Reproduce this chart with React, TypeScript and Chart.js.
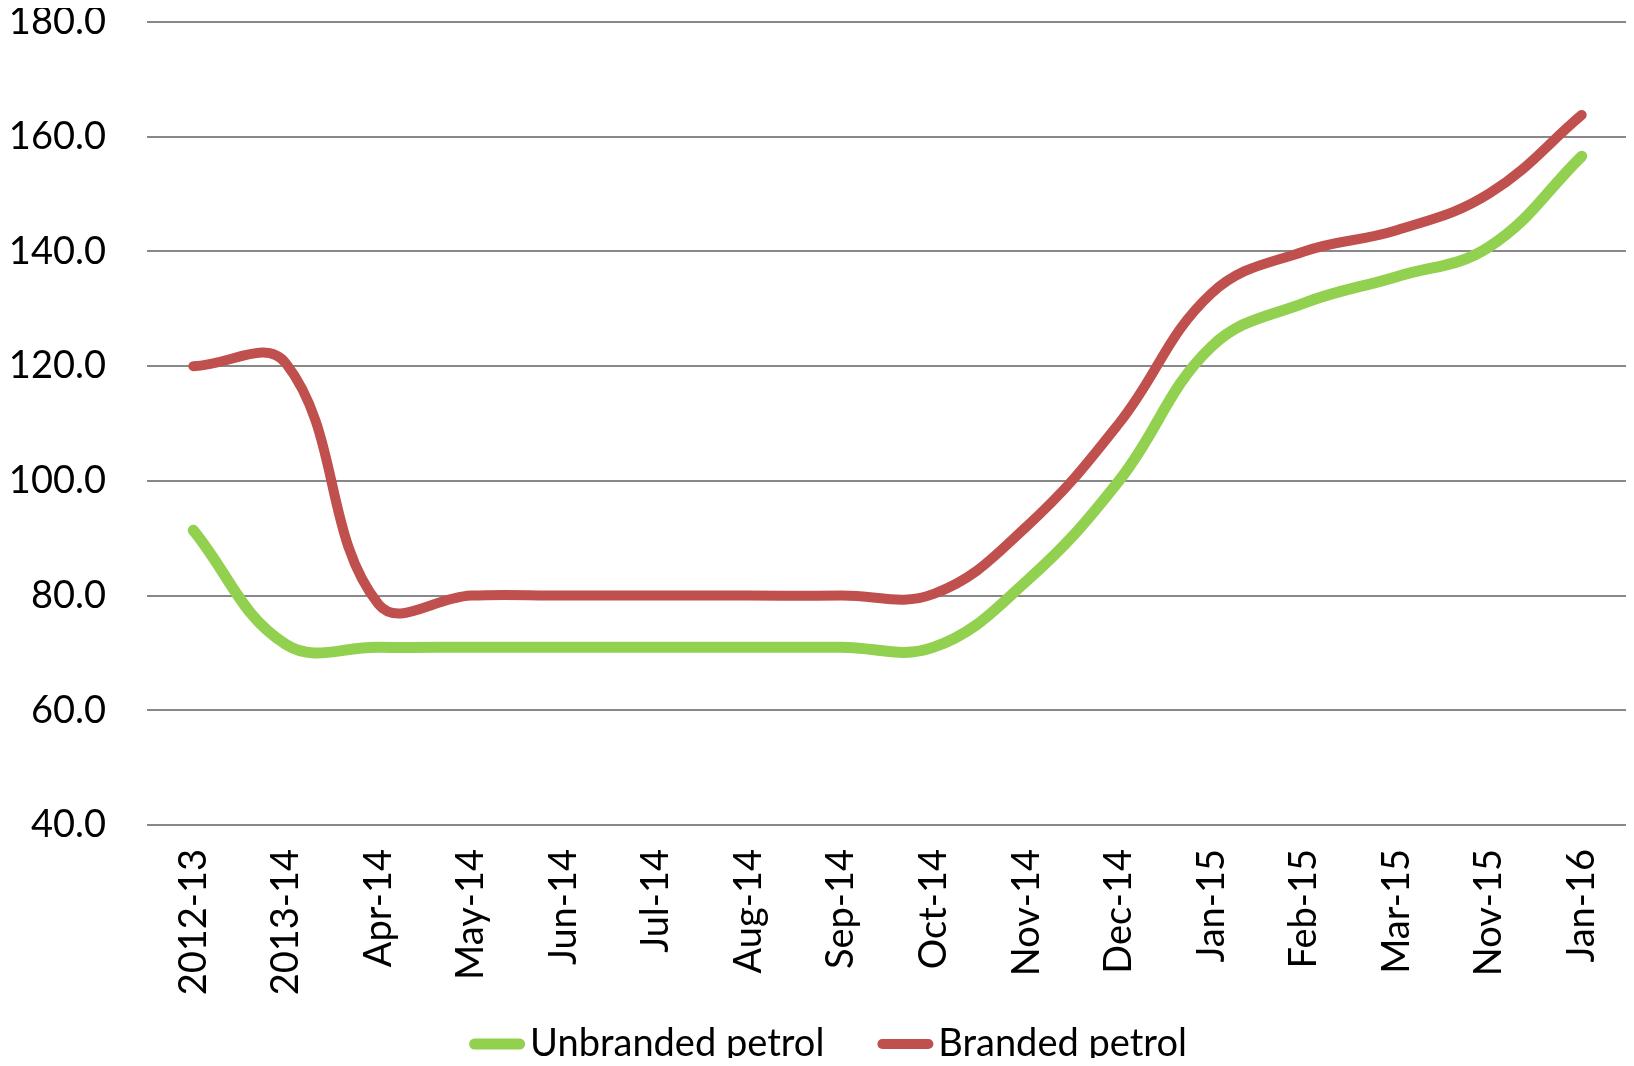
import React, { useEffect, useRef } from "react";
import { Chart, registerables } from "chart.js";

Chart.register(...registerables);

const categories = [
  "2012-13", "2013-14", "Apr-14", "May-14", "Jun-14", "Jul-14", "Aug-14", "Sep-14",
  "Oct-14", "Nov-14", "Dec-14", "Jan-15", "Feb-15", "Mar-15", "Nov-15", "Jan-16",
];
const unbrandedPetrol = [91.4, 71.5, 71, 71, 71, 71, 71, 71, 71, 82.5, 100, 123.4, 131, 135.6, 140.8, 156.6];
const brandedPetrol = [120, 120.5, 78.5, 80, 80, 80, 80, 80, 80.3, 92, 110, 132.7, 140, 143.7, 150.1, 163.8];
const yMin = 40;
const yMax = 180;
const yStep = 20;

const FONT = "Lato, 'Open Sans', sans-serif";
const FONT_SIZE = 38;

const bottomLegend = {
  id: "bottomLegend",
  afterDraw(chart: any) {
    const ctx = chart.ctx as CanvasRenderingContext2D;
    const sample = 56;
    const gapText = 5;
    const gapItem = 53;
    ctx.save();
    ctx.font = `${FONT_SIZE}px ${FONT}`;
    const items = chart.data.datasets.map((ds: any) => ({
      label: ds.label as string,
      color: ds.borderColor as string,
      lw: ds.borderWidth as number,
      tw: ctx.measureText(ds.label).width,
    }));
    const total = items.reduce((s: number, it: any) => s + sample + gapText + it.tw, 0) + gapItem * (items.length - 1);
    let x = chart.width / 2 + 10 - total / 2;
    const y = chart.height - 14;
    for (const it of items) {
      ctx.strokeStyle = it.color;
      ctx.lineWidth = it.lw;
      ctx.lineCap = "round";
      ctx.beginPath();
      ctx.moveTo(x + it.lw / 2, y);
      ctx.lineTo(x + sample - it.lw / 2, y);
      ctx.stroke();
      ctx.fillStyle = "#000";
      ctx.textBaseline = "middle";
      ctx.textAlign = "left";
      ctx.fillText(it.label, x + sample + gapText, y);
      x += sample + gapText + it.tw + gapItem;
    }
    ctx.restore();
  },
};

export default function App() {
  const ref = useRef<HTMLCanvasElement | null>(null);
  useEffect(() => {
    if (!ref.current) return;
    const chart = new Chart(ref.current, {
      type: "line",
      data: {
        labels: categories,
        datasets: [
          {
            label: "Unbranded petrol",
            data: unbrandedPetrol,
            borderColor: "#92D050",
            backgroundColor: "#92D050",
            borderWidth: 11,
            borderCapStyle: "round",
            borderJoinStyle: "round",
            pointRadius: 0,
            pointHoverRadius: 0,
            tension: 0.4,
          },
          {
            label: "Branded petrol",
            data: brandedPetrol,
            borderColor: "#C0504D",
            backgroundColor: "#C0504D",
            borderWidth: 10,
            borderCapStyle: "round",
            borderJoinStyle: "round",
            pointRadius: 0,
            pointHoverRadius: 0,
            tension: 0.4,
          },
        ],
      },
      options: {
        animation: false,
        responsive: true,
        maintainAspectRatio: false,
        layout: { padding: { left: 0, right: 0, top: 14, bottom: 0 } },
        plugins: {
          legend: { display: false },
          tooltip: { enabled: false },
        },
        scales: {
          x: {
            offset: true,
            grid: { display: false, drawTicks: false },
            border: { display: false },
            ticks: {
              color: "#000",
              font: { family: FONT, size: FONT_SIZE },
              minRotation: 90,
              maxRotation: 90,
              padding: 24,
              autoSkip: false,
            },
            afterFit: (scale: any) => {
              scale.height = 233;
              scale.paddingLeft = 0;
              scale.paddingRight = 0;
            },
          },
          y: {
            min: yMin,
            max: yMax,
            grid: { color: "#888888", lineWidth: 2, drawTicks: false },
            border: { display: false },
            ticks: {
              stepSize: yStep,
              color: "#000",
              font: { family: FONT, size: FONT_SIZE },
              padding: 41,
              callback: (v: any) => Number(v).toFixed(1),
            },
            afterFit: (scale: any) => {
              scale.width = 139;
              scale.paddingTop = 0;
              scale.paddingBottom = 0;
            },
          },
        },
      },
      plugins: [bottomLegend],
    });
    return () => chart.destroy();
  }, []);
  return (
    <div style={{ width: 1620, height: 1050, position: "relative" }}>
      <canvas ref={ref} />
    </div>
  );
}
